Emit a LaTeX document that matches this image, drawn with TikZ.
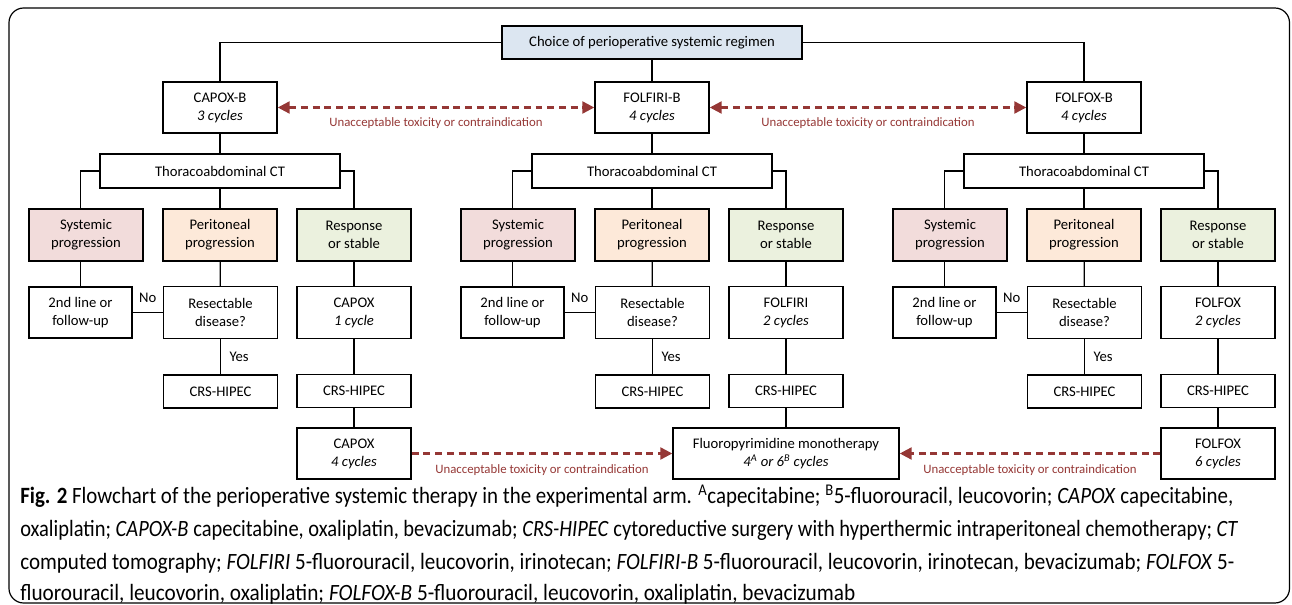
\documentclass[tikz,border=0pt]{standalone}
\usepackage{fontspec}
\setmainfont{Carlito}
\usetikzlibrary{arrows.meta}
\definecolor{toxred}{HTML}{953735}
\definecolor{topfill}{HTML}{DCE6F1}
\definecolor{sysfill}{HTML}{F2DCDB}
\definecolor{perfill}{HTML}{FDE9D9}
\definecolor{resfill}{HTML}{EBF1DE}
\tikzset{
  box/.style={draw, line width=1.1pt, align=center, inner sep=0pt, fill=white,
    font=\fontsize{11}{13.5}\selectfont},
  topbox/.style={box, fill=topfill, minimum width=225pt, minimum height=24.75pt},
  regbox/.style={box, minimum width=85.5pt, minimum height=38.25pt},
  ctbox/.style={box, minimum width=180pt, minimum height=25.5pt},
  stbox/.style={box, minimum width=85.5pt, minimum height=39pt},
  secbox/.style={box, minimum width=77.25pt, minimum height=38.25pt},
  crsbox/.style={box, minimum width=85.5pt, minimum height=24.75pt},
  fluobox/.style={box, minimum width=169.5pt, minimum height=38.25pt},
  conn/.style={draw, line width=0.9pt},
  lab/.style={font=\fontsize{11}{13}\selectfont},
  tox/.style={draw=toxred, line width=1.8pt, dash pattern=on 5.2pt off 3.6pt},
  toxtip/.tip={Triangle[length=9pt,width=9pt]},
  toxlab/.style={text=toxred, font=\fontsize{9.6}{11}\selectfont},
  capline/.style={anchor=base west, inner sep=0pt, font=\fontsize{17.5}{20}\selectfont}
}
\begin{document}
\begin{tikzpicture}[x=0.75pt,y=-0.75pt]
\useasboundingbox (0,0) rectangle (1292,605);
\draw[line width=0.9pt, rounded corners=11pt] (9,8) rectangle (1289.5,603);

\node[topbox] (top) at (652,42.5) {Choice of perioperative systemic regimen};

\foreach \g/\dx/\reg/\rc/\cont/\cc in {a/0/CAPOX-B/3 cycles/CAPOX/1 cycle, b/432/FOLFIRI-B/4 cycles/FOLFIRI/2 cycles, c/864/FOLFOX-B/4 cycles/FOLFOX/2 cycles}{
  \begin{scope}[shift={(\dx,0)}]
  \node[regbox] (reg\g) at (220,107.5) {\reg\\\textit{\rc}};
  \node[ctbox] (ct\g) at (220,171) {Thoracoabdominal CT};
  \node[stbox, fill=sysfill] (sys\g) at (86,235) {Systemic\\progression};
  \node[stbox, fill=perfill] (per\g) at (220,235) {Peritoneal\\progression};
  \node[stbox, fill=resfill] (rsp\g) at (354,235) {Response\\or stable};
  \node[secbox] (sec\g) at (80.5,312.5) {2nd line or\\follow-up};
  \node[stbox] (rsc\g) at (220.5,312.5) {Resectable\\disease?};
  \node[stbox] (cont\g) at (354,312.5) {\cont\\\textit{\cc}};
  \node[crsbox] (crsp\g) at (220.5,391.5) {CRS-HIPEC};
  \node[crsbox] (crsr\g) at (354,391) {CRS-HIPEC};
  \end{scope}
  \draw[conn] (reg\g) -- (ct\g);
  \draw[conn] (ct\g.west) -| (sec\g.north |- sys\g.north);
  \draw[conn] (sys\g.south -| sec\g.north) -- (sec\g.north);
  \draw[conn] (per\g.north |- ct\g.south) -- (per\g.north);
  \draw[conn] (ct\g.east) -| (rsp\g.north);
  \draw[conn] (per\g) -- (rsc\g);
  \draw[conn] (rsc\g) -- node[lab, above=4pt] {No} (sec\g);
  \draw[conn] (rsc\g) -- node[lab, right=3pt] {Yes} (crsp\g);
  \draw[conn] (rsp\g) -- (cont\g);
  \draw[conn] (cont\g) -- (crsr\g);
}

\draw[conn] (top.west) -| (rega.north);
\draw[conn] (top) -- (regb);
\draw[conn] (top.east) -| (regc.north);

\node[regbox] (capox4) at (354,453.5) {CAPOX\\\textit{4 cycles}};
\node[fluobox] (fluo) at (786,453.5) {Fluoropyrimidine monotherapy\\\textit{4\textsuperscript{A} or 6\textsuperscript{B} cycles}};
\node[regbox] (folfox6) at (1218,453.5) {FOLFOX\\\textit{6 cycles}};
\draw[conn] (crsra) -- (capox4);
\draw[conn] (crsrb) -- (fluo);
\draw[conn] (crsrc) -- (folfox6);

\draw[tox, {toxtip}-{toxtip}] (rega) -- node[toxlab, yshift=-12pt] {Unacceptable toxicity or contraindication} (regb);
\draw[tox, {toxtip}-{toxtip}] (regb) -- node[toxlab, yshift=-12pt] {Unacceptable toxicity or contraindication} (regc);
\draw[tox, -{toxtip}] (capox4) -- node[toxlab, yshift=-12.75pt] {Unacceptable toxicity or contraindication} (fluo);
\draw[tox, -{toxtip}] (folfox6) -- node[toxlab, yshift=-12.75pt] {Unacceptable toxicity or contraindication} (fluo);

\node[capline] (cap1) at (20,504) {\resizebox{909.75pt}{\height}{\textbf{Fig. 2} Flowchart of the perioperative systemic therapy in the experimental arm. \textsuperscript{A}capecitabine; \textsuperscript{B}5-fluorouracil, leucovorin; \textit{CAPOX} capecitabine,}};
\node[capline] (cap2) at (20,537) {\resizebox{913.5pt}{\height}{oxaliplatin; \textit{CAPOX-B} capecitabine, oxaliplatin, bevacizumab; \textit{CRS-HIPEC} cytoreductive surgery with hyperthermic intraperitoneal chemotherapy; \textit{CT}}};
\node[capline] (cap3) at (20,569) {\resizebox{910.5pt}{\height}{computed tomography; \textit{FOLFIRI} 5-fluorouracil, leucovorin, irinotecan; \textit{FOLFIRI-B} 5-fluorouracil, leucovorin, irinotecan, bevacizumab; \textit{FOLFOX} 5-}};
\node[capline] (cap4) at (20,600) {\resizebox{626.25pt}{\height}{fluorouracil, leucovorin, oxaliplatin; \textit{FOLFOX-B} 5-fluorouracil, leucovorin, oxaliplatin, bevacizumab}};
\end{tikzpicture}
\end{document}
